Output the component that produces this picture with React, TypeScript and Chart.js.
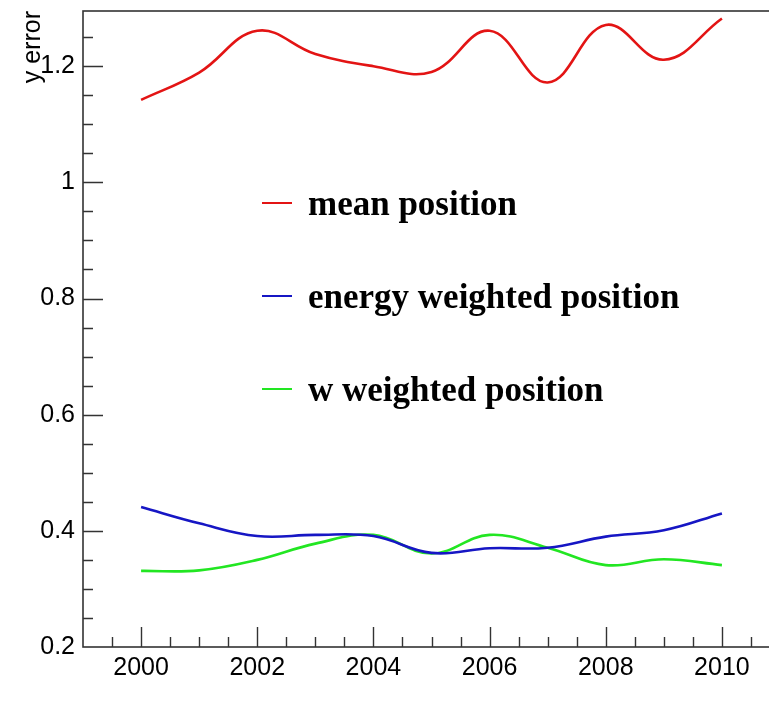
import React, { useEffect, useRef } from 'react';
import { Chart, registerables } from 'chart.js';

Chart.register(...registerables);

// ---- data ----
const years = [2000, 2001, 2002, 2003, 2004, 2005, 2006, 2007, 2008, 2009, 2010];
const meanPosition = [1.142, 1.189, 1.261, 1.221, 1.2, 1.19, 1.261, 1.172, 1.271, 1.211, 1.282];
const energyWeightedPosition = [0.441, 0.413, 0.391, 0.393, 0.391, 0.362, 0.37, 0.371, 0.39, 0.401, 0.43];
const wWeightedPosition = [0.331, 0.332, 0.35, 0.378, 0.393, 0.361, 0.393, 0.371, 0.341, 0.351, 0.341];
const seriesLabels = ['mean position', 'energy weighted position', 'w weighted position'];
const seriesColors = ['#e31414', '#1616c4', '#22e622'];
const yTickValues = [0.2, 0.4, 0.6, 0.8, 1.0, 1.2];
const xTickValues = [2000, 2002, 2004, 2006, 2008, 2010];
const yAxisTitle = 'y error';

const X_MIN = 1999;
const X_MAX = 2011;
const Y_MIN = 0.2;
const Y_MAX = 1.295;
const X_MINOR_STEP = 0.5;
const Y_MINOR_STEP = 0.05;

const AXIS_COLOR = '#333333';
const SANS = "'Liberation Sans', Arial, Helvetica, sans-serif";
const SERIF = "'Liberation Serif', 'Times New Roman', serif";

const framePlugin = {
  id: 'rootFrame',
  afterDatasetsDraw(chart: any) {
    const { ctx, chartArea, scales } = chart;
    const xs = scales.x;
    const ys = scales.y;
    ctx.save();
    ctx.strokeStyle = AXIS_COLOR;
    ctx.lineWidth = 1.6;
    ctx.strokeRect(chartArea.left, chartArea.top, chartArea.right - chartArea.left, chartArea.bottom - chartArea.top);
    ctx.lineWidth = 1.4;
    ctx.beginPath();
    // x ticks (inward)
    const nx = Math.round((X_MAX - X_MIN) / X_MINOR_STEP);
    for (let i = 1; i < nx; i++) {
      const v = X_MIN + i * X_MINOR_STEP;
      const px = Math.round(xs.getPixelForValue(v)) + 0.5;
      const major = Math.abs(v / 2 - Math.round(v / 2)) < 1e-6;
      const len = major ? 20 : 10;
      ctx.moveTo(px, chartArea.bottom);
      ctx.lineTo(px, chartArea.bottom - len);
    }
    // y ticks (inward)
    const ny = Math.round((Y_MAX - Y_MIN) / Y_MINOR_STEP);
    for (let i = 1; i <= ny; i++) {
      const v = Y_MIN + i * Y_MINOR_STEP;
      if (v >= Y_MAX) break;
      const py = Math.round(ys.getPixelForValue(v)) + 0.5;
      const major = Math.abs(v / 0.2 - Math.round(v / 0.2)) < 1e-6;
      const len = major ? 20 : 10;
      ctx.moveTo(chartArea.left, py);
      ctx.lineTo(chartArea.left + len, py);
    }
    ctx.stroke();
    ctx.restore();
  },
};

const legendPlugin = {
  id: 'rootLegend',
  afterDraw(chart: any) {
    const { ctx, chartArea } = chart;
    ctx.save();
    chart.data.datasets.forEach((ds: any, i: number) => {
      const y = chartArea.top + 192 + i * 93;
      ctx.strokeStyle = ds.borderColor;
      ctx.lineWidth = 2;
      ctx.beginPath();
      ctx.moveTo(chartArea.left + 179, y);
      ctx.lineTo(chartArea.left + 209, y);
      ctx.stroke();
      ctx.fillStyle = '#000000';
      ctx.font = `bold 35px ${SERIF}`;
      ctx.textBaseline = 'alphabetic';
      ctx.textAlign = 'left';
      ctx.fillText(ds.label, chartArea.left + 225, y + 12);
    });
    ctx.restore();
  },
};

export default function App() {
  const canvasRef = useRef<HTMLCanvasElement | null>(null);

  useEffect(() => {
    const canvas = canvasRef.current;
    if (!canvas) return;
    const seriesValues = [meanPosition, energyWeightedPosition, wWeightedPosition];
    const chart = new Chart(canvas, {
      type: 'line',
      data: {
        datasets: seriesValues.map((vals, i) => ({
          label: seriesLabels[i],
          data: years.map((yr, j) => ({ x: yr, y: vals[j] })),
          borderColor: seriesColors[i],
          backgroundColor: seriesColors[i],
          borderWidth: 2.6,
          pointRadius: 0,
          tension: 0.4,
          fill: false,
        })),
      },
      options: {
        responsive: false,
        animation: false,
        devicePixelRatio: 1,
        layout: { padding: { top: 11, right: 20, left: 0, bottom: 0 } },
        plugins: {
          legend: { display: false },
          tooltip: { enabled: false },
        },
        scales: {
          x: {
            type: 'linear',
            min: X_MIN,
            max: X_MAX,
            border: { display: false },
            grid: { display: false, drawTicks: false },
            afterBuildTicks: (scale: any) => {
              scale.ticks = xTickValues.map((v) => ({ value: v }));
            },
            afterFit: (scale: any) => {
              scale.height = 56;
              scale.paddingLeft = 0;
              scale.paddingRight = 0;
            },
            ticks: {
              color: '#000000',
              font: { family: SANS, size: 25 },
              padding: 6,
              maxRotation: 0,
              autoSkip: false,
              callback: (v: any) => String(v),
            },
          },
          y: {
            type: 'linear',
            min: Y_MIN,
            max: Y_MAX,
            border: { display: false },
            grid: { display: false, drawTicks: false },
            afterBuildTicks: (scale: any) => {
              scale.ticks = yTickValues.map((v) => ({ value: v }));
            },
            afterFit: (scale: any) => {
              scale.width = 83;
              scale.paddingTop = 0;
              scale.paddingBottom = 0;
            },
            title: {
              display: true,
              text: yAxisTitle,
              align: 'end',
              color: '#000000',
              font: { family: SANS, size: 25 },
              padding: { top: 18, bottom: 0 },
            },
            ticks: {
              color: '#000000',
              font: { family: SANS, size: 25 },
              padding: 8,
              autoSkip: false,
              callback: (v: any) => String(Number(Number(v).toFixed(2))),
            },
          },
        },
      },
      plugins: [framePlugin, legendPlugin],
    } as any);
    return () => chart.destroy();
  }, []);

  return (
    <div
      style={{
        position: 'fixed',
        left: 0,
        top: 0,
        width: 769,
        height: 703,
        overflow: 'hidden',
        background: '#ffffff',
      }}
    >
      <canvas ref={canvasRef} width={800} height={703} style={{ width: 800, height: 703, display: 'block' }} />
    </div>
  );
}
